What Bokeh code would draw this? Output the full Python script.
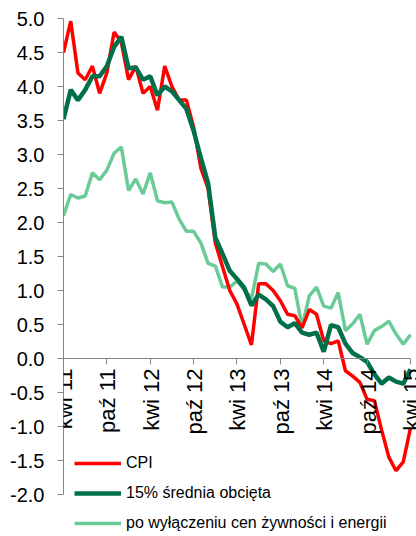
import math
from bokeh.plotting import figure
from bokeh.core.properties import value
from bokeh.models import (LinearAxis, FixedTicker, PrintfTickFormatter, Range1d,
                          Legend, LegendItem, ColumnDataSource, LabelSet)
from bokeh.embed import file_html
from bokeh.resources import INLINE

# months: index 0 = kwi 11 (Apr 2011) ... 48 = kwi 15 (Apr 2015)
month_idx = list(range(49))

cpi = [4.5, 4.96, 4.2, 4.1, 4.3, 3.9, 4.2, 4.8, 4.65, 4.1, 4.3, 3.9, 4.0,
       3.65, 4.3, 4.0, 3.8, 3.8, 3.4, 2.8, 2.5, 1.7, 1.35, 1.0, 0.8, 0.5,
       0.2, 1.1, 1.1, 1.0, 0.85, 0.65, 0.63, 0.45, 0.72, 0.65, 0.26, 0.22,
       0.26, -0.18, -0.26, -0.35, -0.6, -0.62, -1.05, -1.45, -1.65, -1.52,
       -1.02]

trimmed15 = [3.52, 3.95, 3.8, 3.95, 4.15, 4.15, 4.3, 4.58, 4.73, 4.27, 4.28,
             4.1, 4.15, 3.87, 4.0, 3.93, 3.8, 3.67, 3.35, 2.95, 2.58, 1.78,
             1.54, 1.29, 1.17, 1.04, 0.78, 0.94, 0.87, 0.77, 0.54, 0.46, 0.52,
             0.38, 0.35, 0.38, 0.1, 0.49, 0.46, 0.22, 0.08, 0.02, -0.05,
             -0.23, -0.37, -0.28, -0.34, -0.37, -0.16]

ex_food_energy = [2.1, 2.41, 2.36, 2.39, 2.73, 2.63, 2.77, 3.02, 3.11, 2.47,
                  2.64, 2.42, 2.73, 2.32, 2.29, 2.3, 2.05, 1.87, 1.87, 1.7,
                  1.4, 1.36, 1.05, 1.05, 1.14, 1.01, 0.88, 1.4, 1.39, 1.28,
                  1.39, 1.07, 1.03, 0.47, 0.92, 1.05, 0.77, 0.74, 0.97, 0.41,
                  0.51, 0.65, 0.21, 0.41, 0.47, 0.55, 0.36, 0.21, 0.35]

x_ticks = [0, 6, 12, 18, 24, 30, 36, 42, 48]
x_tick_labels = ["kwi 11", "paź 11", "kwi 12", "paź 12", "kwi 13", "paź 13",
                 "kwi 14", "paź 14", "kwi 15"]
y_ticks = [-2.0, -1.5, -1.0, -0.5, 0.0, 0.5, 1.0, 1.5, 2.0, 2.5, 3.0, 3.5,
           4.0, 4.5, 5.0]

series_names = ["CPI", "15% średnia obcięta",
                "po wyłączeniu cen żywności i energii"]

FONT = "Liberation Sans"
AXIS_GREY = "#868686"

p = figure(width=416, height=534, output_backend="svg", toolbar_location=None,
           x_axis_type=None, y_axis_type=None,
           x_range=Range1d(0, 48.83), y_range=Range1d(-2.588, 5.0),
           min_border_left=63, min_border_right=0, min_border_top=18,
           min_border_bottom=0)
p.outline_line_color = None
p.background_fill_color = "white"
p.border_fill_color = "white"

src = ColumnDataSource(dict(x=month_idx, cpi=cpi, t15=trimmed15,
                            core=ex_food_energy))

r_core = p.line("x", "core", source=src, line_color="#6BCB98", line_width=3.5)
r_cpi = p.line("x", "cpi", source=src, line_color="#FF0000", line_width=3.5)
r_t15 = p.line("x", "t15", source=src, line_color="#00704A", line_width=4.5)

# y axis
yaxis = LinearAxis(ticker=FixedTicker(ticks=y_ticks),
                   formatter=PrintfTickFormatter(format="%.1f"),
                   bounds=(-2.0, 5.0))
yaxis.axis_line_color = AXIS_GREY
yaxis.major_tick_line_color = AXIS_GREY
yaxis.major_tick_out = 6
yaxis.major_tick_in = 0
yaxis.minor_tick_line_color = None
yaxis.major_label_standoff = 13
yaxis.major_label_text_font = FONT
yaxis.major_label_text_font_size = "20px"
yaxis.major_label_text_color = "#000000"
p.add_layout(yaxis, "left")

# x axis crossing at zero (line + ticks); labels drawn as rotated LabelSet
xaxis = LinearAxis(ticker=FixedTicker(ticks=x_ticks), bounds=(0, 48),
                   fixed_location=0)
xaxis.major_label_overrides = {t: "" for t in x_ticks}
xaxis.axis_line_color = AXIS_GREY
xaxis.major_tick_line_color = AXIS_GREY
xaxis.major_tick_out = 6
xaxis.major_tick_in = 0
xaxis.minor_tick_line_color = None
p.add_layout(xaxis, "below")

lab_src = ColumnDataSource(dict(x=x_ticks, y=[0.0] * len(x_ticks),
                                text=x_tick_labels))
xlabels = LabelSet(x="x", y="y", text="text", source=lab_src,
                   angle=math.pi / 2, text_align="right",
                   text_baseline="middle", x_offset=1, y_offset=-10,
                   text_font=value(FONT), text_font_size=value("22px"),
                   text_color="#000000")
p.add_layout(xlabels)

legend = Legend(items=[LegendItem(label=series_names[0], renderers=[r_cpi]),
                       LegendItem(label=series_names[1], renderers=[r_t15]),
                       LegendItem(label=series_names[2], renderers=[r_core])],
                location=(11, 1), orientation="vertical")
legend.background_fill_alpha = 0
legend.border_line_color = None
legend.padding = 0
legend.margin = 0
legend.spacing = 10
legend.glyph_width = 47
legend.glyph_height = 20
legend.label_height = 20
legend.label_standoff = 5
legend.label_text_font = FONT
legend.label_text_font_size = "16px"
legend.label_text_color = "#000000"
p.add_layout(legend, "center")

open("out.html", "w").write(file_html(p, INLINE))
